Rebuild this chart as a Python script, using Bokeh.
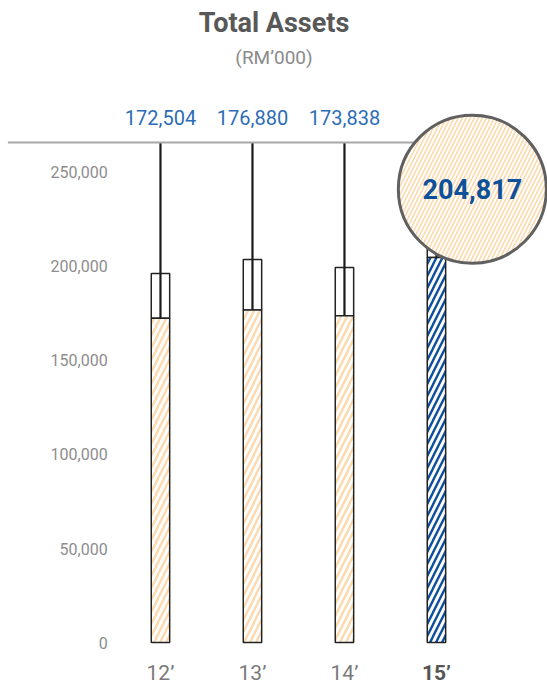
from bokeh.plotting import figure
from bokeh.models import Range1d, FixedTicker, NumeralTickFormatter, LinearAxis
from bokeh.core.properties import value
from bokeh.embed import file_html
from bokeh.resources import INLINE

# ---- data ----
years = ["12’", "13’", "14’", "15’"]
total_assets = [172504, 176880, 173838, 204817]
cap_top = [196300, 203700, 199500, 231000]
y_ticks = [0, 50000, 100000, 150000, 200000, 250000]
title = "Total Assets"
subtitle = "(RM’000)"
line_level = 266000
label_level = 279500
highlight = 3

W, H = 547, 687
x_start, x_end = -1.739, 4.207
y_start, y_end = -23936, 341489

p = figure(width=W, height=H, output_backend="svg", toolbar_location=None,
           x_range=Range1d(x_start, x_end), y_range=Range1d(y_start, y_end),
           x_axis_location=None, y_axis_location=None,
           min_border_left=0, min_border_right=0, min_border_top=0, min_border_bottom=0)
p.outline_line_color = None
p.grid.visible = False
p.background_fill_color = "white"

xs = list(range(len(years)))
normal = [i for i in xs if i != highlight]

# y axis (fixed inside frame)
yax = LinearAxis(ticker=FixedTicker(ticks=y_ticks), formatter=NumeralTickFormatter(format="0,0"))
yax.fixed_location = -0.40
yax.axis_line_color = None
yax.major_tick_line_color = None
yax.minor_tick_line_color = None
yax.major_label_standoff = 10
yax.major_label_text_font = "Roboto"
yax.major_label_text_font_size = "16px"
yax.major_label_text_color = "#8d8d8d"
p.add_layout(yax, "left")

# x axis (fixed at zero)
xax = LinearAxis(ticker=FixedTicker(ticks=xs),
                 major_label_overrides={i: (years[i] if i != highlight else "") for i in xs})
xax.fixed_location = 0
xax.axis_line_color = None
xax.major_tick_line_color = None
xax.minor_tick_line_color = None
xax.major_label_standoff = 12
xax.major_label_text_font = "Roboto"
xax.major_label_text_font_size = "21px"
xax.major_label_text_color = "#7a7a7a"
p.add_layout(xax, "below")

peach = "#fcd9ad"
blue = "#0b4f9c"

# caps (white boxes)
p.quad(left=[i - 0.1 for i in xs], right=[i + 0.1 for i in xs],
       bottom=total_assets, top=cap_top, fill_color="white",
       line_color="#222222", line_width=1.5)

# bars
p.vbar(x=normal, top=[total_assets[i] for i in normal], bottom=0, width=0.2,
       fill_color=peach, line_color="#222222", line_width=1.5,
       hatch_pattern="/", hatch_color="white", hatch_weight=3, hatch_scale=12)
p.vbar(x=[highlight], top=[total_assets[highlight]], bottom=0, width=0.2,
       fill_color=blue, line_color="#222222", line_width=1.5,
       hatch_pattern="/", hatch_color="white", hatch_weight=3, hatch_scale=12)

# vertical strings
p.segment(x0=xs, y0=total_assets, x1=xs, y1=[line_level] * len(xs),
          line_color="#1a1a1a", line_width=2.2)

# horizontal line
p.segment(x0=[x_start + 0.08], y0=[line_level], x1=[highlight + 0.2], y1=[line_level],
          line_color="#a8a8a8", line_width=2)

# value labels
p.text(x=normal, y=[label_level] * len(normal),
       text=[f"{total_assets[i]:,}" for i in normal],
       text_align="center", text_baseline="middle",
       text_font=value("Roboto"), text_font_size="20px", text_color="#2d6db5")

# magnifier circle
cx = highlight + 0.39
cy = 241100
p.circle(x=[cx], y=[cy], radius=74, radius_units="screen",
         fill_color=peach, line_color="#606060", line_width=3,
         hatch_pattern="/", hatch_color="white", hatch_weight=2, hatch_scale=8)
p.text(x=[cx], y=[cy], text=[f"{total_assets[highlight]:,}"],
       text_align="center", text_baseline="middle",
       text_font=value("Roboto"), text_font_style="bold",
       text_font_size="27px", text_color="#0f5199")

# bold highlighted x label
p.text(x=[highlight], y=[0], text=[years[highlight]], y_offset=30,
       text_align="center", text_baseline="middle",
       text_font=value("Roboto"), text_font_style="bold",
       text_font_size="21px", text_color="#555555")

# titles
mid = (x_start + x_end) / 2
p.text(x=[mid], y=[329500], text=[title], text_align="center", text_baseline="middle",
       text_font=value("Roboto"), text_font_style="bold", text_font_size="27px",
       text_color="#585858")
p.text(x=[mid], y=[311000], text=[subtitle], text_align="center", text_baseline="middle",
       text_font=value("Roboto"), text_font_size="19px", text_color="#8a8a8a")

open("out.html", "w").write(file_html(p, INLINE))
